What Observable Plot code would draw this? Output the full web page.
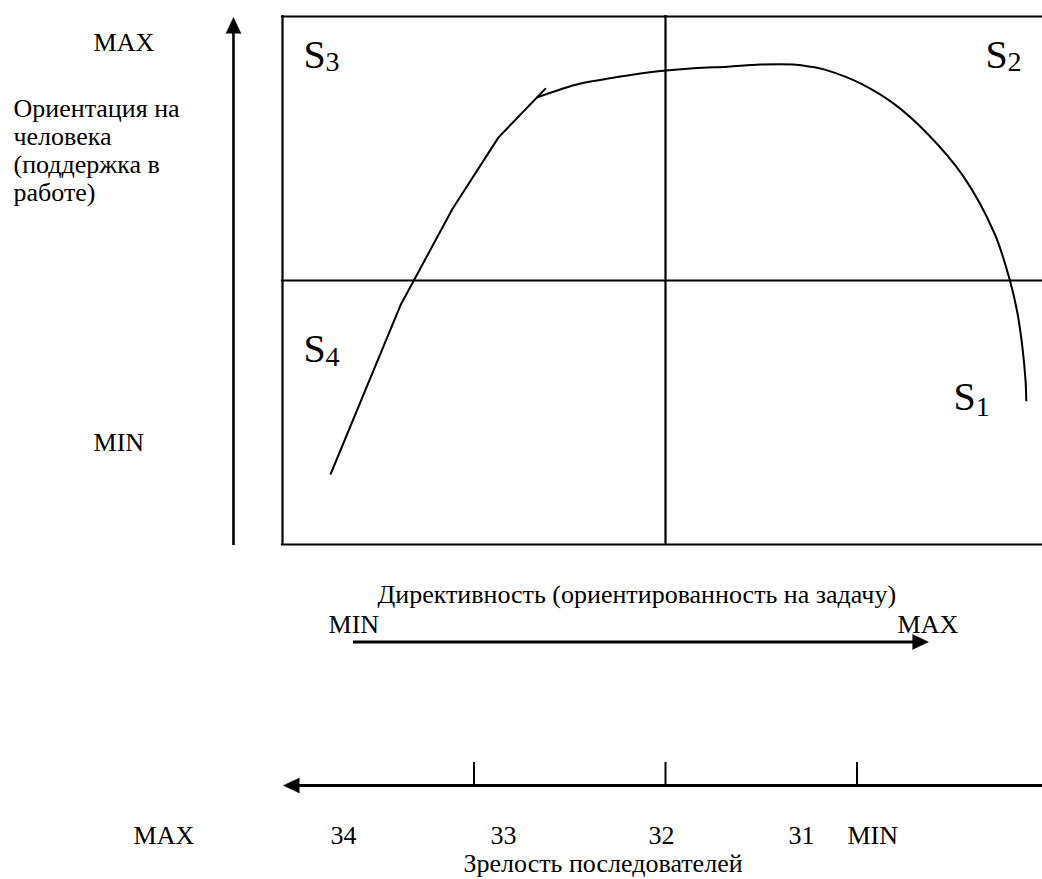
<!DOCTYPE html>
<html>
<head>
<meta charset="utf-8">
<script src="https://cdn.jsdelivr.net/npm/d3@7"></script>
<script src="https://cdn.jsdelivr.net/npm/@observablehq/plot@0.6"></script>
<style>
  html, body { margin: 0; padding: 0; background: #fff; overflow: hidden; }
  #chart svg { display: block; }
</style>
</head>
<body>
<div id="chart"></div>
<script>
// ---------- DATA ----------
// Quadrant (leadership style) labels: base letter + subscript
const quadrantBase = ["S", "S", "S", "S"];
const quadrantSub = ["1", "2", "3", "4"];

// Life-cycle curve, rising straight part (directivity %, support %)
const riseX = [6.3, 15.4, 22.2, 28.2, 34.3];
const riseY = [13.4, 45.3, 63.6, 77.1, 86.3];

// Life-cycle curve, smooth arc part
const arcX = [33.3, 38.9, 43.2, 47.7, 53.7, 58.1, 62.4, 66.7, 68.9, 71.1, 75.5, 79.8, 84.2, 88.8, 92.95, 95.0, 95.95, 96.6, 97.0, 97.1];
const arcY = [84.7, 87.3, 88.4, 89.4, 90.2, 90.5, 90.9, 90.9, 90.5, 89.8, 87.3, 83.5, 77.8, 69.9, 58.9, 49.8, 43.8, 37.3, 31.1, 27.3];

// Grid lines of the box (quadrant borders)
const gridLines = [0, 50, 100];

// Follower maturity scale
const maturityTicks = [25, 50, 75];
const maturityLabels = ["MAX", "34", "33", "32", "31", "MIN"];
const maturityTitle = "Зрелость последователей";

// Axis texts
const supportTitle = "Ориентация на\nчеловека\n(поддержка в\nработе)";
const supportEnds = ["MAX", "MIN"];
const directivityTitle = "Директивность (ориентированность на задачу)";
const directivityEnds = ["MIN", "MAX"];

// ---------- LAYOUT (annotation positions, in chart units) ----------
const sPos = [[87.6, 25.38], [91.78, 90.34], [2.74, 90.34], [2.74, 34.47]];
const subPos = [[90.5, 24.43], [94.65, 89.77], [5.61, 89.77], [5.61, 33.9]];
const supportEndsPos = [[-24.67, 93.56], [-24.67, 17.8]];
const supportTitlePos = [-35.12, 65.15];
const directivityTitlePos = [12.4, -11.17];
const directivityEndsPos = [[6.01, -16.67], [80.29, -16.67]];
const maturityLabelX = [-19.45, 6.27, 27.15, 47.78, 66.06, 73.76];
const maturityLabelY = -56.63;
const maturityTitlePos = [23.63, -62.12];
const supportArrow = {x: -6.4, y1: -0.19, y2: 97, tip: 99.81};
const directivityArrow = {y: -18.45, x1: 9.27, x2: 83, tip: 84.33};
const maturityArrow = {y: -45.64, x1: 1.5, x2: 101, tip: 0.13, tickTop: -41.29};

const FONT = "'Liberation Serif', 'Times New Roman', 'DejaVu Serif', serif";

const rise = riseX.map((x, i) => ({x, y: riseY[i]}));
const arc = arcX.map((x, i) => ({x, y: arcY[i]}));
const sLabels = quadrantBase.map((t, i) => ({t, x: sPos[i][0], y: sPos[i][1]}));
const subLabels = quadrantSub.map((t, i) => ({t, x: subPos[i][0], y: subPos[i][1]}));
const supEnds = supportEnds.map((t, i) => ({t, x: supportEndsPos[i][0], y: supportEndsPos[i][1]}));
const dirEnds = directivityEnds.map((t, i) => ({t, x: directivityEndsPos[i][0], y: directivityEndsPos[i][1]}));
const matLabels = maturityLabels.map((t, i) => ({t, x: maturityLabelX[i], y: maturityLabelY}));
const heads = [
  {x: supportArrow.x, y: supportArrow.tip, r: 0},
  {x: directivityArrow.tip, y: directivityArrow.y, r: 90},
  {x: maturityArrow.tip, y: maturityArrow.y, r: -90}
];

const txt = (data, opts) => Plot.text(data, {
  x: "x", y: "y", text: "t", textAnchor: "start", lineAnchor: "bottom",
  fontFamily: FONT, fontSize: 26, fill: "black", ...opts
});

const chart = Plot.plot({
  width: 1042,
  height: 879,
  margin: 0,
  x: {domain: [0, 100], range: [282, 1048], axis: null},
  y: {domain: [0, 100], range: [544, 16], axis: null},
  style: {background: "white", fontFamily: FONT, overflow: "visible"},
  marks: [
    // box and quadrants
    Plot.ruleX(gridLines, {y1: 0, y2: 100, stroke: "black", strokeWidth: 2.2, strokeLinecap: "square"}),
    Plot.ruleY(gridLines, {x1: 0, x2: 100, stroke: "black", strokeWidth: 2.2, strokeLinecap: "square"}),
    // curve
    Plot.line(rise, {x: "x", y: "y", stroke: "black", strokeWidth: 2}),
    Plot.line(arc, {x: "x", y: "y", stroke: "black", strokeWidth: 2, curve: "catmull-rom"}),
    // support axis arrow
    Plot.ruleX([supportArrow.x], {y1: supportArrow.y1, y2: supportArrow.y2, stroke: "black", strokeWidth: 2.6}),
    // directivity arrow
    Plot.ruleY([directivityArrow.y], {x1: directivityArrow.x1, x2: directivityArrow.x2, stroke: "black", strokeWidth: 3}),
    // maturity arrow + ticks
    Plot.ruleY([maturityArrow.y], {x1: maturityArrow.x1, x2: maturityArrow.x2, stroke: "black", strokeWidth: 3}),
    Plot.ruleX(maturityTicks, {y1: maturityArrow.y, y2: maturityArrow.tickTop, stroke: "black", strokeWidth: 2}),
    // arrow heads
    Plot.vector(heads, {x: "x", y: "y", rotate: "r", length: 16, r: 7.5, shape: "spike", anchor: "end", fill: "black", stroke: "black", strokeWidth: 0.5}),
    // quadrant labels
    txt(sLabels, {fontSize: 40}),
    txt(subLabels, {fontSize: 28}),
    // texts
    txt(supEnds),
    txt([{t: supportTitle, x: supportTitlePos[0], y: supportTitlePos[1]}], {lineHeight: 1.065}),
    txt([{t: directivityTitle, x: directivityTitlePos[0], y: directivityTitlePos[1]}]),
    txt(dirEnds),
    txt(matLabels),
    txt([{t: maturityTitle, x: maturityTitlePos[0], y: maturityTitlePos[1]}])
  ]
});

document.getElementById("chart").appendChild(chart);
</script>
</body>
</html>
